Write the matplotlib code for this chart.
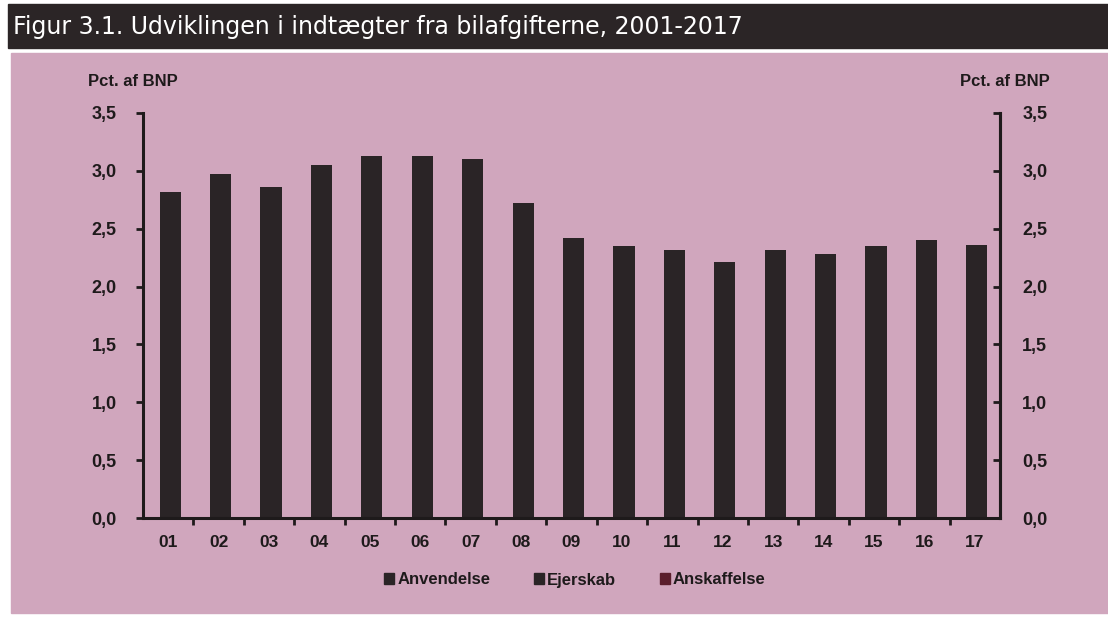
import numpy as np
import matplotlib
matplotlib.use("Agg")
import matplotlib.pyplot as plt
from matplotlib.patches import Rectangle, Patch
from matplotlib.ticker import FuncFormatter, FixedLocator

plt.rcParams['font.family'] = ['Liberation Sans', 'DejaVu Sans']

# Data: revenue from car taxes, pct. of GDP
years = ['01', '02', '03', '04', '05', '06', '07', '08', '09',
         '10', '11', '12', '13', '14', '15', '16', '17']
total = [2.82, 2.97, 2.86, 3.05, 3.13, 3.13, 3.10, 2.72, 2.42,
         2.35, 2.32, 2.21, 2.32, 2.28, 2.35, 2.40, 2.36]
series_names = ['Anvendelse', 'Ejerskab', 'Anskaffelse']
series_colors = ['#2a2426', '#2a2426', '#5a1e2c']

title = 'Figur 3.1. Udviklingen i indtægter fra bilafgifterne, 2001-2017'
ylabel = 'Pct. af BNP'

pink = '#d0a6bd'
bar_color = '#2a2426'
ink = '#1e1a1b'

fig = plt.figure(figsize=(11.08, 6.19), dpi=100)
W, H = 1108, 619

# title bar and pink panel
fig.patches.append(Rectangle((8 / W, 1 - 48 / H), 1 - 8 / W, 44 / H,
                             transform=fig.transFigure, color='#2b2526',
                             zorder=-5))
fig.patches.append(Rectangle((11 / W, 1 - 613 / H), 1 - 11 / W, 560 / H,
                             transform=fig.transFigure, color=pink,
                             zorder=-5))
fig.text(13 / W, 1 - 27 / H, title, color='white', fontsize=17,
         family='DejaVu Sans', va='center', ha='left')

ax = fig.add_axes([143 / W, 1 - 518 / H, (1000 - 143) / W, (518 - 113) / H])
ax.patch.set_alpha(0)

x = np.arange(len(years))
ax.bar(x + 0.04, total, width=0.42, color=bar_color, zorder=2)

ax.set_xlim(-0.5, len(years) - 0.5)
ax.set_ylim(0, 3.5)
yt = np.arange(0, 3.51, 0.5)
ax.set_yticks(yt)
fmt = FuncFormatter(lambda v, p: f'{v:.1f}'.replace('.', ','))
ax.yaxis.set_major_formatter(fmt)
ax.set_xticks(x)
ax.set_xticklabels(years)
ax.xaxis.set_minor_locator(FixedLocator(x[:-1] + 0.5))

ax.spines['top'].set_visible(False)
for s in ['left', 'right', 'bottom']:
    ax.spines[s].set_linewidth(2.2)
    ax.spines[s].set_color(ink)

ax.tick_params(axis='x', which='major', length=0, pad=12, labelsize=12.5)
ax.tick_params(axis='x', which='minor', length=5, width=2, direction='out',
               color=ink)
ax.tick_params(axis='y', length=5, width=2, direction='out', pad=14,
               labelsize=13, color=ink)
for lab in ax.get_xticklabels() + ax.get_yticklabels():
    lab.set_fontweight('bold')
    lab.set_color(ink)

ax2 = ax.twinx()
ax2.set_ylim(ax.get_ylim())
ax2.set_yticks(yt)
ax2.yaxis.set_major_formatter(fmt)
ax2.tick_params(axis='y', length=5, width=2, direction='in', pad=16,
                labelsize=13, color=ink)
for lab in ax2.get_yticklabels():
    lab.set_fontweight('bold')
    lab.set_color(ink)
for s in ['top', 'left', 'bottom']:
    ax2.spines[s].set_visible(False)
ax2.spines['right'].set_linewidth(2.2)
ax2.spines['right'].set_color(ink)

fig.text(88 / W, 1 - 81 / H, ylabel, fontsize=12, fontweight='bold',
         color=ink, ha='left', va='center')
fig.text(1050 / W, 1 - 81 / H, ylabel, fontsize=12, fontweight='bold',
         color=ink, ha='right', va='center')

handles = [Patch(color=c, label=n) for n, c in zip(series_names, series_colors)]
leg = fig.legend(handles=handles, loc='center', ncol=3, frameon=False,
                 bbox_to_anchor=(575 / W, 1 - 580 / H),
                 handlelength=0.6, handleheight=0.6, handletextpad=0.2,
                 columnspacing=2.6, prop={'weight': 'bold', 'size': 12})
for t in leg.get_texts():
    t.set_color(ink)

fig.savefig('out.png', dpi=100)
